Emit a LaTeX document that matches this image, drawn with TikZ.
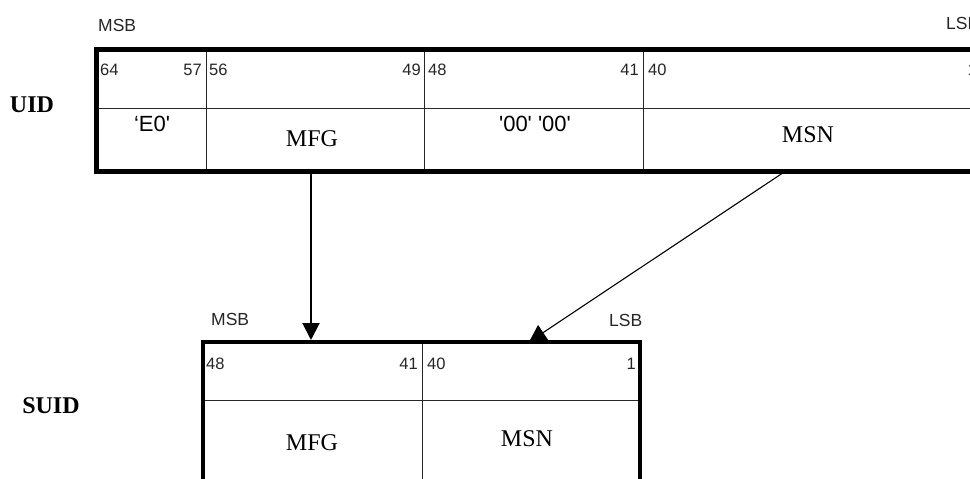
\documentclass[tikz,border=0pt]{standalone}
\usepackage{fontspec}
\setmainfont{Liberation Serif}
\setsansfont{Liberation Sans}
\newfontfamily\qsans{Liberation Sans}
\usetikzlibrary{arrows.meta}
\begin{document}
\begin{tikzpicture}[x=1pt,y=-1pt,
  outerbox/.style={line width=5pt},
  suidbox/.style={line width=4pt},
  cellline/.style={line width=1pt, black!85},
  bitnum/.style={font=\sffamily\fontsize{16.5}{16.5}\selectfont, inner sep=0pt, text=black!85},
  endlabel/.style={font=\sffamily\fontsize{17.5}{17.5}\selectfont, inner sep=0pt, text=black!85, anchor=base west},
  quoted/.style={font=\qsans\fontsize{22}{22}\selectfont, inner sep=0pt, anchor=base},
  field/.style={font=\fontsize{24}{24}\selectfont, inner sep=0pt, anchor=base},
  idname/.style={font=\bfseries\fontsize{24}{24}\selectfont, inner sep=0pt, anchor=base},
  downarrow/.style={line width=2pt, -{Triangle[width=17pt,length=17pt]}},
  diagarrow/.style={line width=1.1pt, -{Triangle[width=18pt,length=17pt]}}
]
\clip (0,0) rectangle (970,479);

% ---------- UID ----------
\node[idname] (uid) at (32,112) {UID};
\node[endlabel] (umsb) at (98,31) {MSB};
\node[endlabel] (ulsb) at (946,30) {LSB};

\draw[cellline] (206,49) -- (206,171);
\draw[cellline] (424,49) -- (424,171);
\draw[cellline] (643,49) -- (643,171);
\draw[cellline] (96,108) -- (1000,108);
\draw[outerbox] (96,49) rectangle (1000,171);

\node[bitnum, anchor=base west] (u64) at (100,75) {64};
\node[bitnum, anchor=base east] (u57) at (202,75) {57};
\node[bitnum, anchor=base west] (u56) at (209,75) {56};
\node[bitnum, anchor=base east] (u49) at (421,75) {49};
\node[bitnum, anchor=base west] (u48) at (428,75) {48};
\node[bitnum, anchor=base east] (u41) at (639,75) {41};
\node[bitnum, anchor=base west] (u40) at (648,75) {40};
\node[bitnum, anchor=base east] (u1) at (977,75) {1};

\node[quoted] (ue0) at (152,131) {‘E0'};
\node[field] (umfg) at (312,146) {MFG};
\node[quoted] (u00) at (535,131) {'00' '00'};
\node[field] (umsn) at (808,142) {MSN};

% ---------- SUID ----------
\node[idname] (suid) at (51,413) {SUID};
\node[endlabel] (smsb) at (211,325) {MSB};
\node[endlabel] (slsb) at (609,326) {LSB};

\draw[cellline] (422,342) -- (422,500);
\draw[cellline] (202.5,400) -- (640,400);
\draw[suidbox] (202.5,342) rectangle (640,500);

\node[bitnum, anchor=base west] (s48) at (206,369) {48};
\node[bitnum, anchor=base east] (s41) at (418,369) {41};
\node[bitnum, anchor=base west] (s40) at (427,369) {40};
\node[bitnum, anchor=base east] (s1) at (636,369) {1};

\node[field] (smfg) at (312,450) {MFG};
\node[field] (smsn) at (527,446) {MSN};

% ---------- connectors ----------
\coordinate (mfgfrom) at (311,173.5);
\coordinate (mfgto) at (311,340);
\coordinate (msnfrom) at (782,173.5);
\coordinate (msnto) at (529,342);
\draw[downarrow] (mfgfrom) -- (mfgto);
\draw[diagarrow] (msnfrom) -- (msnto);
\end{tikzpicture}
\end{document}
